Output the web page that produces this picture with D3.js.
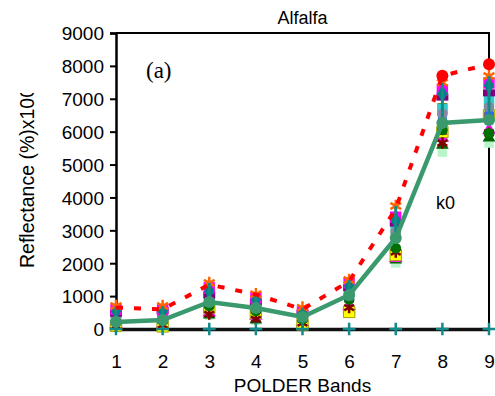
<!DOCTYPE html>
<html>
<head>
<meta charset="utf-8">
<script src="https://cdn.jsdelivr.net/npm/d3@7"></script>
<style>
  body { margin: 0; background: #fff; }
  text { font-family: "Liberation Sans", Arial, sans-serif; fill: #000; }
</style>
</head>
<body>
<div id="chart"></div>
<script>
const bands = [1, 2, 3, 4, 5, 6, 7, 8, 9];
const y_ticks = [0, 1000, 2000, 3000, 4000, 5000, 6000, 7000, 8000, 9000];

// individual samples
const s_orange  = [700, 700, 1400, 1060, 650, 1490, 3740, 7490, 7690];
const s_magenta = [600, 580, 1250, 950, 520, 1400, 3400, 7270, 7480];
const s_teal    = [550, 540, 1150, 900, 480, 1300, 3300, 7150, 7400];
const s_purple  = [480, 560, 1030, 820, 480, 1250, 3220, 7050, 7180];
const s_cyan    = [400, 450, 950, 760, 430, 1150, 3050, 6690, 6960];
const s_olive   = [380, 430, 900, 720, 400, 1100, 2950, 6720, 6810];
const s_gray    = [350, 380, 880, 700, 380, 1080, 2950, 6540, 6750];
const s_blue    = [300, 350, 850, 650, 360, 1000, 2900, 6400, 6600];
const s_brown   = [260, 300, 750, 600, 330, 950, 2800, 6050, 6450];
const s_dgreen  = [220, 250, 700, 550, 300, 900, 2460, 6050, 5950];
const s_yellow  = [100, 80, 640, 490, 140, 520, 2250, 5990, 6500];
const s_pink    = [150, 150, 500, 400, 200, 700, 2160, 5810, 6050];
const s_dred    = [80, 120, 450, 300, 180, 650, 2340, 5655, 5960];
const s_forest  = [60, 60, 430, 280, 160, 600, 2100, 5590, 5810];
const s_mint    = [40, 40, 420, 270, 150, 560, 2010, 5380, 5655];
const s_zero    = [0, 0, 0, 0, 0, 0, 0, 0, 0];

// summary lines
const max_vals  = [650, 600, 1350, 1050, 600, 1450, 3650, 7700, 8050];
const mean_vals = [213, 274, 821, 638, 365, 1034, 2767, 6263, 6355];

const chart_width = 495;
const chart_height = 396;
const margin = { left: 116, right: 6, top: 33, bottom: 67 };

const svg = d3.select('#chart')
    .append('svg')
    .attr('width', chart_width)
    .attr('height', chart_height);

const x_scale = d3.scaleLinear()
    .domain([1, 9])
    .range([margin.left, chart_width - margin.right]);

const y_scale = d3.scaleLinear()
    .domain([0, 9000])
    .range([chart_height - margin.bottom, margin.top]);

// frame (top and right)
svg.append('path')
    .attr('d', `M${x_scale(1)},${y_scale(9000)}H${x_scale(9)}V${y_scale(0)}`)
    .attr('fill', 'none')
    .attr('stroke', '#000')
    .attr('stroke-width', 2);

// y axis
const y_axis = d3.axisLeft(y_scale)
    .tickValues(y_ticks)
    .tickSize(6)
    .tickPadding(6)
    .tickFormat(d3.format('d'));

const y_g = svg.append('g')
    .attr('transform', `translate(${x_scale(1)}, 0)`)
    .call(y_axis);
y_g.select('.domain').attr('stroke-width', 2.5);
y_g.selectAll('line').attr('stroke-width', 2);
y_g.selectAll('text')
    .style('font-size', '19px')
    .attr('dy', '0.36em');

// x axis
const x_axis = d3.axisBottom(x_scale)
    .tickValues(bands)
    .tickSize(0)
    .tickPadding(26)
    .tickFormat(d3.format('d'));

const x_g = svg.append('g')
    .attr('transform', `translate(0, ${y_scale(0)})`)
    .call(x_axis);
x_g.select('.domain').attr('stroke-width', 3.5).attr('stroke', '#111');
x_g.selectAll('text').style('font-size', '19px');

// marker series
const series = [
    { vals: s_mint,    color: '#b8f5c8', shape: 'square', size: 90 },
    { vals: s_forest,  color: '#006400', shape: 'triangle', size: 70 },
    { vals: s_pink,    color: '#ff00ff', shape: 'triangle', size: 80 },
    { vals: s_yellow,  color: '#ffff00', shape: 'square', size: 130, stroke: '#a0a000' },
    { vals: s_dred,    color: '#800000', shape: 'asterisk', size: 90 },
    { vals: s_brown,   color: '#993300', shape: 'square', size: 90 },
    { vals: s_dgreen,  color: '#007000', shape: 'circle', size: 90 },
    { vals: s_blue,    color: '#3366ff', shape: 'square', size: 80 },
    { vals: s_olive,   color: '#808000', shape: 'square', size: 100 },
    { vals: s_cyan,    color: '#33cccc', shape: 'square', size: 110 },
    { vals: s_gray,    color: '#8888a0', shape: 'circle', size: 90 },
    { vals: s_purple,  color: '#800080', shape: 'flat', size: 0 },
    { vals: s_magenta, color: '#ff00ff', shape: 'square', size: 130 },
    { vals: s_teal,    color: '#008080', shape: 'diamond', size: 90 },
    { vals: s_orange,  color: '#ff6600', shape: 'asterisk', size: 110 },
    { vals: s_zero,    color: '#138a8a', shape: 'cross', size: 55 },
];

const shape_types = {
    square: d3.symbolSquare,
    circle: d3.symbolCircle,
    triangle: d3.symbolTriangle,
    diamond: d3.symbolDiamond,
    asterisk: d3.symbolAsterisk,
    cross: d3.symbolPlus,
};

const marks = svg.append('g');

series.forEach(s => {
    const g = marks.append('g');
    const pts = g.selectAll('.pt')
        .data(s.vals)
        .enter();
    if (s.shape === 'flat') {
        pts.append('rect')
            .attr('x', (d, i) => x_scale(bands[i]) - 6)
            .attr('y', d => y_scale(d) - 3.5)
            .attr('width', 12)
            .attr('height', 7)
            .attr('fill', s.color);
    } else if (s.shape === 'asterisk' || s.shape === 'cross') {
        pts.append('path')
            .attr('transform', (d, i) => `translate(${x_scale(bands[i])}, ${y_scale(d)})`)
            .attr('d', d3.symbol(shape_types[s.shape], s.size)())
            .attr('fill', 'none')
            .attr('stroke', s.color)
            .attr('stroke-width', 2.5);
    } else {
        pts.append('path')
            .attr('transform', (d, i) => `translate(${x_scale(bands[i])}, ${y_scale(d)})`)
            .attr('d', d3.symbol(shape_types[s.shape], s.size)())
            .attr('fill', s.color)
            .attr('stroke', s.stroke || 'none')
            .attr('stroke-width', 1);
    }
});

// teal vertical bars from mean up to the upper samples
marks.append('g')
    .selectAll('line')
    .data(bands)
    .enter()
    .append('line')
    .attr('x1', d => x_scale(d))
    .attr('x2', d => x_scale(d))
    .attr('y1', (d, i) => y_scale(mean_vals[i]))
    .attr('y2', (d, i) => y_scale(s_orange[i]))
    .attr('stroke', '#138a8a')
    .attr('stroke-width', 3);

// max (red dashed) line
const line = d3.line()
    .x((d, i) => x_scale(bands[i]))
    .y(d => y_scale(d));

svg.append('path')
    .datum(max_vals)
    .attr('d', line)
    .attr('fill', 'none')
    .attr('stroke', '#ff0000')
    .attr('stroke-width', 4)
    .attr('stroke-dasharray', '7,11');

svg.append('g')
    .selectAll('circle')
    .data(max_vals)
    .enter()
    .append('circle')
    .attr('cx', (d, i) => x_scale(bands[i]))
    .attr('cy', d => y_scale(d))
    .attr('r', (d, i) => i >= 7 ? 6 : 0)
    .attr('fill', '#ff0000');

// mean (green) line
svg.append('path')
    .datum(mean_vals)
    .attr('d', line)
    .attr('fill', 'none')
    .attr('stroke', '#3a9a6e')
    .attr('stroke-width', 4.5);

svg.append('g')
    .selectAll('circle')
    .data(mean_vals)
    .enter()
    .append('circle')
    .attr('cx', (d, i) => x_scale(bands[i]))
    .attr('cy', d => y_scale(d))
    .attr('r', 6)
    .attr('fill', '#3a9a6e');

// titles and labels
svg.append('text')
    .attr('x', (x_scale(1) + x_scale(9)) / 2)
    .attr('y', 24)
    .attr('text-anchor', 'middle')
    .style('font-size', '18px')
    .text('Alfalfa');

svg.append('text')
    .attr('x', 146)
    .attr('y', 78)
    .style('font-family', '"Liberation Serif", "Times New Roman", serif')
    .style('font-size', '23px')
    .text('(a)');

svg.append('text')
    .attr('x', 436)
    .attr('y', 209)
    .style('font-size', '18px')
    .text('k0');

svg.append('text')
    .attr('x', (x_scale(1) + x_scale(9)) / 2)
    .attr('y', 392)
    .attr('text-anchor', 'middle')
    .style('font-size', '19px')
    .text('POLDER Bands');

// y label, cut at its top end like the source figure
const ylabel_clip = svg.append('defs')
    .append('clipPath')
    .attr('id', 'ylabel-clip');
ylabel_clip.append('rect')
    .attr('x', 0)
    .attr('y', 93)
    .attr('width', 60)
    .attr('height', 220);

svg.append('g')
    .attr('clip-path', 'url(#ylabel-clip)')
    .append('text')
    .attr('transform', 'translate(34, 268) rotate(-90)')
    .attr('text-anchor', 'start')
    .style('font-size', '19.5px')
    .text('Reflectance (%)x100');
</script>
</body>
</html>
